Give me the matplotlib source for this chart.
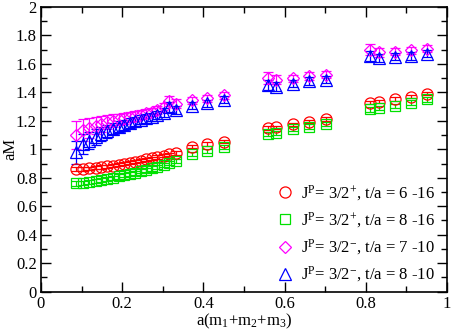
import matplotlib
matplotlib.use("Agg")
import matplotlib.pyplot as plt
from matplotlib.ticker import MultipleLocator

plt.rcParams['font.family'] = ['Liberation Serif', 'DejaVu Serif']
plt.rcParams['mathtext.fontset'] = 'custom'
plt.rcParams['mathtext.rm'] = 'Liberation Serif'
plt.rcParams['mathtext.it'] = 'Liberation Serif:italic'

# x positions a(m1+m2+m3)
x = [0.087, 0.104, 0.119, 0.135, 0.149, 0.163, 0.178, 0.193, 0.205, 0.219,
     0.232, 0.246, 0.259, 0.273, 0.286, 0.303, 0.315, 0.333,
     0.371, 0.410, 0.451, 0.559, 0.580, 0.620, 0.661, 0.701,
     0.810, 0.833, 0.872, 0.911, 0.950]

# J^P = 3/2+, t/a = 6-16
y_red = [0.860, 0.862, 0.866, 0.870, 0.875, 0.880, 0.886, 0.893, 0.900, 0.906,
         0.913, 0.921, 0.929, 0.937, 0.946, 0.956, 0.965, 0.975,
         1.018, 1.037, 1.054, 1.150, 1.155, 1.175, 1.195, 1.212,
         1.328, 1.335, 1.352, 1.370, 1.390]
e_red = [0.012] * 31

# J^P = 3/2+, t/a = 8-16
y_green = [0.760, 0.765, 0.772, 0.778, 0.785, 0.791, 0.800, 0.809, 0.817, 0.826,
           0.835, 0.845, 0.855, 0.865, 0.876, 0.890, 0.903, 0.918,
           0.967, 0.990, 1.018, 1.105, 1.115, 1.140, 1.160, 1.178,
           1.280, 1.290, 1.305, 1.328, 1.350]
e_green = [0.015] * 31

# J^P = 3/2-, t/a = 7-10
y_mag = [1.100, 1.135, 1.150, 1.165, 1.178, 1.190, 1.200, 1.210, 1.218, 1.226,
         1.235, 1.243, 1.252, 1.262, 1.275, 1.295, 1.340, 1.320,
         1.345, 1.358, 1.380, 1.500, 1.490, 1.500, 1.515, 1.525,
         1.700, 1.680, 1.685, 1.695, 1.705]
e_mag = [0.10, 0.08, 0.07, 0.06, 0.055, 0.05, 0.045, 0.04, 0.04, 0.035,
         0.035, 0.03, 0.03, 0.03, 0.03, 0.03, 0.035, 0.03,
         0.025, 0.025, 0.025, 0.04, 0.03, 0.025, 0.025, 0.025,
         0.04, 0.03, 0.025, 0.025, 0.025]

# J^P = 3/2-, t/a = 8-10
y_blue = [0.980, 1.040, 1.060, 1.085, 1.105, 1.125, 1.145, 1.160, 1.172, 1.185,
          1.197, 1.208, 1.218, 1.228, 1.242, 1.258, 1.300, 1.275,
          1.305, 1.323, 1.347, 1.450, 1.440, 1.460, 1.480, 1.490,
          1.655, 1.640, 1.650, 1.655, 1.670]
e_blue = [0.08, 0.07, 0.06, 0.055, 0.05, 0.045, 0.04, 0.04, 0.035, 0.035,
          0.03, 0.03, 0.03, 0.03, 0.03, 0.03, 0.035, 0.03,
          0.025, 0.025, 0.025, 0.035, 0.03, 0.025, 0.025, 0.025,
          0.035, 0.03, 0.025, 0.025, 0.025]

labels = [r'J$^{\rm P}$= 3/2$^{+}$, t/a = 6 -16',
          r'J$^{\rm P}$= 3/2$^{+}$, t/a = 8 -16',
          r'J$^{\rm P}$= 3/2$^{-}$, t/a = 7 -10',
          r'J$^{\rm P}$= 3/2$^{-}$, t/a = 8 -10']

fig = plt.figure(figsize=(4.52, 3.31), dpi=100)
ax = fig.add_axes([0.0907, 0.119, 0.898, 0.860])

series = [(y_red, e_red, 'o', '#ff0000', 8),
          (y_green, e_green, 's', '#00e000', 7),
          (y_mag, e_mag, 'D', '#ff00ff', 6.5),
          (y_blue, e_blue, '^', '#0000ff', 8)]

for (yv, ev, m, c, ms), lab in zip(series, labels):
    ax.errorbar(x, yv, yerr=ev, fmt=m, mfc='none', mec=c, ecolor=c, color=c,
                ms=ms, mew=0.9, elinewidth=0.9, capsize=3.5, capthick=0.9,
                label=lab)

ax.set_xlim(0, 1)
ax.set_ylim(0, 2)
ax.xaxis.set_major_locator(MultipleLocator(0.2))
ax.xaxis.set_minor_locator(MultipleLocator(0.1))
ax.yaxis.set_major_locator(MultipleLocator(0.2))
ax.yaxis.set_minor_locator(MultipleLocator(0.1))
ax.tick_params(which='both', direction='in', top=True, right=True, labelsize=12)
ax.tick_params(which='major', length=7, width=1, pad=3)
ax.tick_params(which='minor', length=4, width=1)
ax.set_xticks([0, 0.2, 0.4, 0.6, 0.8, 1.0])
ax.set_xticklabels(['0', '0.2', '0.4', '0.6', '0.8', '1'])
ax.set_yticks([0, 0.2, 0.4, 0.6, 0.8, 1.0, 1.2, 1.4, 1.6, 1.8, 2.0])
ax.set_yticklabels(['0', '0.2', '0.4', '0.6', '0.8', '1', '1.2', '1.4', '1.6', '1.8', '2'])
for s in ax.spines.values():
    s.set_linewidth(1.2)

ax.set_xlabel(r'a(m$_1$+m$_2$+m$_3$)', fontsize=12, labelpad=0)
ax.set_ylabel('aM', fontsize=12, va='center')
ax.yaxis.set_label_coords(-0.076, 0.5)

handles, labs = ax.get_legend_handles_labels()
h2 = [h[0] for h in handles]
ax.legend(h2, labs, loc='lower right', frameon=False, fontsize=12,
          handletextpad=0.2, labelspacing=0.45, handlelength=1.5,
          bbox_to_anchor=(1.0, -0.015), borderaxespad=0.3)

fig.savefig('out.png', dpi=100)
